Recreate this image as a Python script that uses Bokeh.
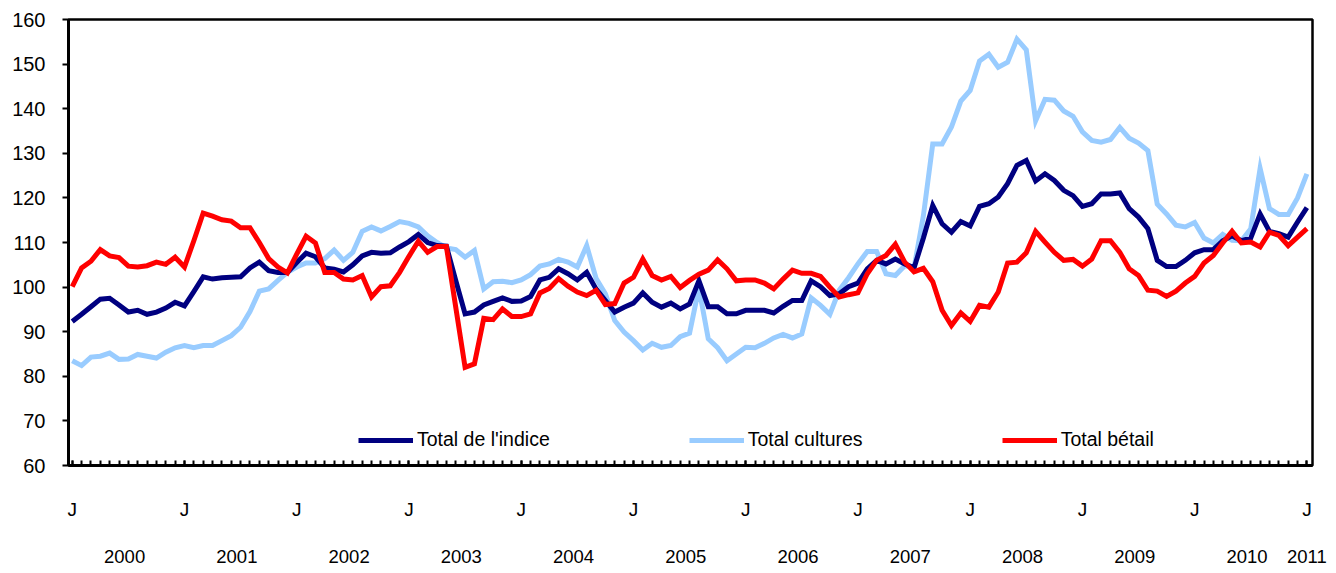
from bokeh.plotting import figure
from bokeh.models import Range1d, LinearAxis, FixedTicker, Legend, LegendItem
from bokeh.embed import file_html
from bokeh.resources import INLINE

# ---- data (monthly, Jan 2000 .. Jan 2011) ----
years = ["2000", "2001", "2002", "2003", "2004", "2005",
         "2006", "2007", "2008", "2009", "2010", "2011"]
month_letter = "J"

indice = [
    92.3, 93.9, 95.6, 97.3, 97.5, 96.0, 94.4, 94.8, 93.9, 94.4, 95.3, 96.6,
    95.8, 99.0, 102.3, 101.8, 102.1, 102.2, 102.3, 104.3, 105.6, 103.7, 103.3, 103.3,
    105.5, 107.6, 106.8, 104.3, 104.0, 103.4, 105.0, 107.0, 107.8, 107.6, 107.7, 109.0,
    110.2, 111.8, 110.0, 109.3, 109.2, 101.5, 94.0, 94.4, 96.0, 96.8, 97.6, 96.8,
    96.9, 97.9, 101.6, 102.2, 104.1, 103.0, 101.6, 103.3, 99.6, 97.0, 94.4, 95.5,
    96.4, 98.7, 96.6, 95.5, 96.4, 95.1, 96.2, 101.4, 95.6, 95.6, 94.0, 94.0,
    94.8, 94.8, 94.8, 94.2, 95.7, 97.0, 97.0, 101.4, 100.1, 98.1, 98.5, 100.1,
    100.9, 104.1, 106.0, 105.2, 106.3, 105.2, 104.3, 111.0, 118.3, 114.2, 112.3, 114.7,
    113.7, 118.1, 118.7, 120.2, 123.2, 127.3, 128.4, 123.8, 125.4, 123.9, 121.7, 120.5,
    118.1, 118.7, 120.9, 120.9, 121.1, 117.6, 115.7, 113.1, 106.0, 104.6, 104.6, 106.0,
    107.7, 108.4, 108.4, 110.4, 111.5, 110.4, 111.0, 116.4, 112.5, 112.0, 111.2, 114.6,
    117.8,
]

cultures = [
    83.5, 82.4, 84.3, 84.5, 85.2, 83.8, 83.9, 84.9, 84.5, 84.1, 85.4, 86.4,
    86.9, 86.4, 86.9, 86.9, 88.0, 89.1, 91.0, 94.5, 99.1, 99.6, 101.5, 103.3,
    104.5, 105.4, 105.4, 106.4, 108.3, 106.0, 107.8, 112.5, 113.5, 112.6, 113.6, 114.7,
    114.3, 113.5, 111.5, 110.0, 108.8, 108.4, 106.7, 108.2, 99.6, 101.2, 101.3, 101.0,
    101.6, 102.8, 104.7, 105.2, 106.2, 105.6, 104.5, 109.3, 102.0, 98.5, 92.5, 89.9,
    88.0, 85.9, 87.4, 86.5, 86.9, 88.9, 89.7, 99.8, 88.4, 86.4, 83.5, 85.0,
    86.5, 86.4, 87.4, 88.6, 89.4, 88.6, 89.5, 97.6, 95.9, 93.9, 99.3, 102.1,
    105.2, 108.0, 108.0, 103.0, 102.6, 104.8, 104.3, 116.0, 132.1, 132.1, 135.9, 141.7,
    144.1, 150.7, 152.2, 149.3, 150.4, 155.6, 153.2, 137.3, 142.1, 141.9, 139.5, 138.3,
    134.8, 132.9, 132.5, 133.1, 135.8, 133.4, 132.3, 130.6, 118.6, 116.4, 113.9, 113.5,
    114.5, 111.0, 109.9, 111.8, 110.5, 110.4, 113.1, 126.6, 117.6, 116.3, 116.3, 120.0,
    125.4,
]

betail = [
    100.1, 104.3, 105.8, 108.4, 107.0, 106.6, 104.7, 104.5, 104.8, 105.6, 105.1, 106.7,
    104.5, 110.4, 116.6, 115.9, 115.1, 114.8, 113.3, 113.3, 110.0, 106.4, 104.5, 103.2,
    107.4, 111.4, 109.9, 103.3, 103.3, 101.8, 101.6, 102.6, 97.8, 100.1, 100.3, 103.3,
    106.9, 110.3, 107.8, 109.1, 109.1, 95.5, 82.0, 82.8, 93.0, 92.7, 95.1, 93.4,
    93.4, 94.0, 98.7, 99.7, 101.9, 100.2, 98.9, 98.1, 99.3, 96.1, 96.3, 100.9,
    102.2, 106.3, 102.6, 101.6, 102.4, 99.9, 101.5, 102.9, 103.8, 106.1, 104.1, 101.4,
    101.6, 101.6, 100.9, 99.6, 101.8, 103.8, 103.1, 103.1, 102.4, 100.0, 97.8, 98.3,
    98.7, 103.0, 106.0, 107.1, 109.6, 105.6, 103.4, 104.2, 101.2, 94.8, 91.4, 94.2,
    92.3, 95.9, 95.5, 98.9, 105.4, 105.6, 107.7, 112.5, 110.1, 107.8, 106.0, 106.2,
    104.7, 106.3, 110.4, 110.4, 107.8, 104.1, 102.6, 99.3, 99.1, 97.9, 99.1, 100.9,
    102.4, 105.4, 107.1, 109.9, 112.5, 109.9, 110.1, 109.0, 112.3, 111.6, 109.3, 111.2,
    113.1,
]

series_names = ["Total de l'indice", "Total cultures", "Total bétail"]
y_ticks = [60, 70, 80, 90, 100, 110, 120, 130, 140, 150, 160]

months = list(range(len(indice)))
n = len(months)
jan_ticks = [m for m in months if m % 12 == 0]
year_pos = [12 * k + 5.6 for k in range(len(years) - 1)] + [12 * (len(years) - 1)]

FONT = "Liberation Sans"

p = figure(width=1328, height=565, output_backend="svg", toolbar_location=None,
           x_range=Range1d(-0.4, n - 1 + 0.6), y_range=Range1d(60, 160),
           x_axis_type=None, y_axis_type=None,
           min_border_left=68, min_border_right=16, min_border_top=19,
           min_border_bottom=100)
p.xgrid.visible = False
p.ygrid.visible = False
p.background_fill_color = "white"
p.border_fill_color = "white"
p.outline_line_color = "black"
p.outline_line_width = 2.5
p.outline_line_alpha = 1.0

# y axis
yax = LinearAxis(ticker=FixedTicker(ticks=y_ticks))
yax.axis_line_width = 3
yax.major_tick_in = 0
yax.major_tick_out = 6
yax.major_tick_line_width = 2
yax.minor_tick_line_color = None
yax.major_label_text_font = FONT
yax.major_label_text_font_size = "20px"
yax.major_label_text_color = "black"
yax.major_label_standoff = 17
p.add_layout(yax, "left")

# x axis: month ticks + "J"
xax = LinearAxis(ticker=FixedTicker(ticks=jan_ticks, minor_ticks=months))
xax.axis_line_width = 3
xax.major_tick_in = 5
xax.major_tick_out = 0
xax.major_tick_line_width = 2
xax.minor_tick_in = 5
xax.minor_tick_out = 0
xax.minor_tick_line_width = 2
xax.major_label_overrides = {t: month_letter for t in jan_ticks}
xax.major_label_text_font = FONT
xax.major_label_text_font_size = "19px"
xax.major_label_text_color = "black"
xax.major_label_standoff = 33
p.add_layout(xax, "below")

# x axis: years
yrax = LinearAxis(ticker=FixedTicker(ticks=year_pos, minor_ticks=[]))
yrax.axis_line_color = None
yrax.major_tick_line_color = None
yrax.minor_tick_line_color = None
yrax.major_label_overrides = {pos: lab for pos, lab in zip(year_pos, years)}
yrax.major_label_text_font = FONT
yrax.major_label_text_font_size = "18.5px"
yrax.major_label_text_color = "black"
yrax.major_label_standoff = 21
p.add_layout(yrax, "below")

r_c = p.line(months, cultures, line_color="#99CCFF", line_width=5, line_join="miter")
r_i = p.line(months, indice, line_color="#000080", line_width=5, line_join="miter")
r_b = p.line(months, betail, line_color="#FF0000", line_width=5, line_join="miter")

legend = Legend(items=[LegendItem(label=series_names[0], renderers=[r_i]),
                       LegendItem(label=series_names[1], renderers=[r_c]),
                       LegendItem(label=series_names[2], renderers=[r_b])],
                orientation="horizontal", location=(290, 14))
legend.padding = 0
legend.margin = 0
legend.spacing = 139
legend.glyph_width = 55
legend.glyph_height = 20
legend.label_height = 20
legend.label_standoff = 4
legend.label_text_font = FONT
legend.label_text_font_size = "19.5px"
legend.label_text_color = "black"
legend.border_line_alpha = 0
legend.background_fill_alpha = 0
p.add_layout(legend, "center")

open("out.html", "w").write(file_html(p, INLINE))
